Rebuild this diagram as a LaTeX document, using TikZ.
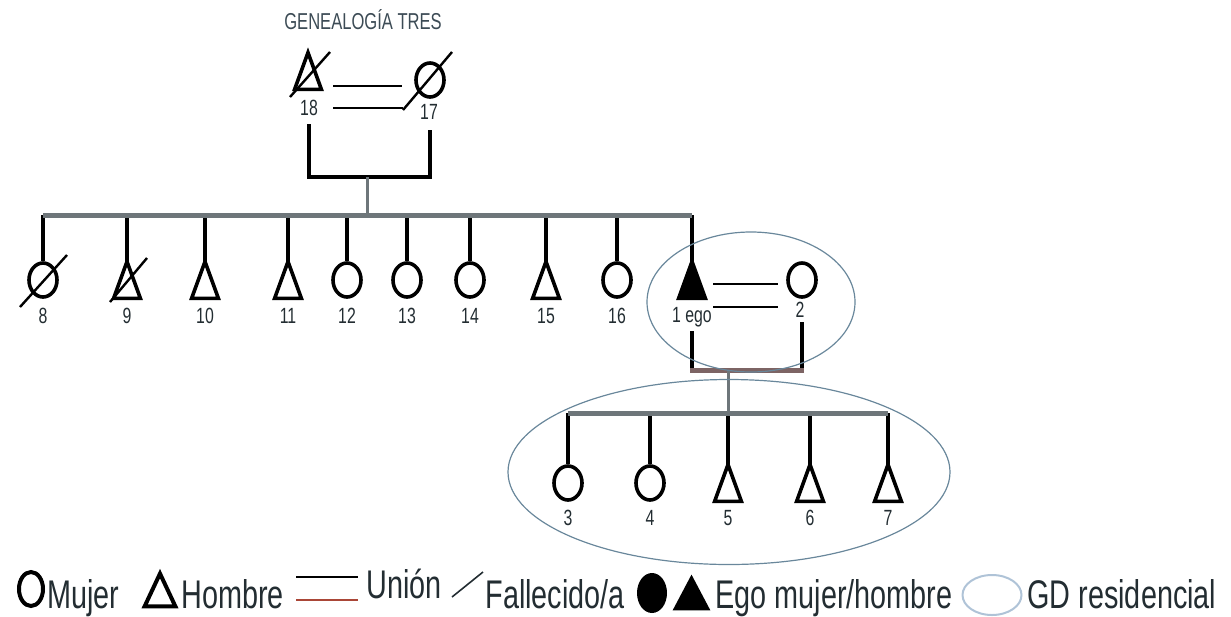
\documentclass[tikz,border=0pt]{standalone}
\usepackage{fontspec}
\usepackage{tikz}
\usetikzlibrary{shapes.geometric}
\newfontfamily\narrowsf{Liberation Sans}[FakeStretch=0.72]

\definecolor{ink}{RGB}{35,45,50}
\definecolor{titlegray}{RGB}{60,75,85}
\definecolor{bargray}{RGB}{110,118,122}
\definecolor{linkbrown}{RGB}{125,100,100}
\definecolor{gdline}{RGB}{105,135,155}
\definecolor{gdlight}{RGB}{175,195,215}
\definecolor{unionred}{RGB}{170,70,55}

\tikzset{
  woman/.style={ellipse,draw,line width=1.8pt,minimum width=14pt,minimum height=17pt,inner sep=0pt},
  man/.style={rectangle,minimum width=13pt,minimum height=18pt,inner sep=0pt},
  sym/.style={line width=1.8pt},
  num/.style={font=\narrowsf\fontsize{11}{13}\selectfont,text=ink,inner sep=0pt},
  key/.style={font=\narrowsf\fontsize{20}{23}\selectfont,text=ink,inner sep=0pt,anchor=base west},
  drop/.style={line width=2pt},
  bar/.style={line width=2.5pt,draw=bargray},
  stem/.style={line width=1.5pt,draw=bargray},
  union/.style={line width=1pt},
  dead/.style={line width=1.2pt},
  gd/.style={ellipse,draw=gdline,line width=0.6pt,inner sep=0pt},
}

\begin{document}
\begin{tikzpicture}[x=0.5pt,y=-0.5pt]
        \useasboundingbox (0,0) rectangle (1231,616);
        \node[font=\narrowsf\fontsize{11.5}{13}\selectfont,text=titlegray] (title) at (363,20) {GENEALOGÍA TRES};

        % abuelos
        \node[man] (p18) at (308,71) {};
        \node[woman] (p17) at (430,80) {};
        \node[num] (n18) at (309,108) {18};
        \node[num] (n17) at (429,112) {17};
        \draw[union] ([shift={(12,15)}]p18.east) -- ++(69,0);
        \draw[union] ([shift={(12,37)}]p18.east) -- ++(70,0);
        \coordinate (top) at (367,177);
        \coordinate (sib) at (367,215);
        \draw[drop] ([yshift=-4pt]n18.south) |- (top) -| ([yshift=-5pt]p17 |- n17.south);
        \draw[stem] (top) -- (sib);

        % hermanos, ego y pareja
        \foreach \p/\x in {9/127,10/205,11/288,15/546,1/692}
            \node[man] (p\p) at (\x,280) {};
        \foreach \p/\x in {8/43,12/347,13/407,14/470,16/617,2/802}
            \node[woman] (p\p) at (\x,280) {};
        \foreach \p/\x in {8/43,9/127,10/205,11/288,12/347,13/407,14/470,15/546,16/617}
            \node[num] (n\p) at (\x,316) {\p};
        \node[num] (n1) at (692,317) {1 ego};
        \node[num] (n2) at (800,310) {2};
        \foreach \p in {8,9,10,11,12,13,14,15,16,1}
            \draw[drop] (p\p |- sib) -- (p\p.north);
        \draw[bar] (p8 |- sib) -- (p1 |- sib);

        \draw[union] ([shift={(8,4)}]p1.east) -- ([shift={(-8,4)}]p2.west);
        \draw[union] ([shift={(8,27)}]p1.east) -- ([shift={(-8,27)}]p2.west);
        \coordinate (home) at (728,370);
        \coordinate (kids) at (728,413);
        \draw[drop] ([yshift=-2pt]p1 |- n1.south) -- (p1 |- home);
        \draw[drop] ([yshift=-2pt]p2 |- n2.south) -- (p2 |- home);
        \draw[bar,draw=linkbrown] ([xshift=-1pt]p1 |- home) -- ([xshift=1pt]p2 |- home);
        \draw[stem] (home) -- (kids);

        % hijos
        \foreach \p/\x in {3/568,4/650}
            \node[woman] (p\p) at (\x,483) {};
        \foreach \p/\x in {5/728,6/810,7/888}
            \node[man] (p\p) at (\x,483) {};
        \foreach \p/\x in {3/568,4/650,5/728,6/810,7/888}
            \node[num] (n\p) at (\x,518) {\p};
        \foreach \p in {3,4,5,6,7}
            \draw[drop] (p\p |- kids) -- (p\p.north);
        \draw[bar] (p3 |- kids) -- (p7 |- kids);

        % triangulos
        \foreach \p in {18,9,10,11,15,5,6,7}
            \draw[sym] (p\p.south west) -- (p\p.north) -- (p\p.south east) -- cycle;
        \filldraw[sym] (p1.south west) -- (p1.north) -- (p1.south east) -- cycle;

        % fallecidos
        \draw[dead] ([shift={(-23,27)}]p8.center) -- ([shift={(24,-25)}]p8.center);
        \draw[dead] ([shift={(-17,22)}]p9.center) -- ([shift={(20,-22)}]p9.center);
        \draw[dead] ([shift={(-18,26)}]p18.center) -- ([shift={(22,-19)}]p18.center);
        \draw[dead] ([shift={(-27,30)}]p17.center) -- ([shift={(22,-28)}]p17.center);

        % grupos domesticos
        \node[gd,minimum width=104pt,minimum height=70pt] (gd1) at (751,302) {};
        \node[gd,minimum width=221pt,minimum height=92.5pt] (gd2) at (729,472) {};

        % leyenda
        \node[ellipse,draw,line width=2pt,minimum width=12pt,minimum height=17pt,inner sep=0pt] (kw) at (31,589) {};
        \node[key] (kwt) at (47,608) {Mujer};
        \node[minimum width=15pt,minimum height=16pt,inner sep=0pt] (km) at (160,590) {};
        \draw[line width=2pt] (km.south west) -- (km.north) -- (km.south east) -- cycle;
        \node[key] (kmt) at (181,608) {Hombre};
        \coordinate (ku) at (296,577);
        \draw[union] (ku) -- ++(62,0);
        \draw[union,draw=unionred] (ku) ++(0,23) -- ++(62,0);
        \node[key] (kut) at (366,598) {Unión};
        \coordinate (kd) at (452,597);
        \draw[line width=0.8pt,draw=ink] (kd) -- ++(31,-25);
        \node[key] (kdt) at (485,608) {Fallecido/a};
        \node[ellipse,fill,minimum width=15pt,minimum height=20pt,inner sep=0pt] (kew) at (652,593) {};
        \node[minimum width=18.5pt,minimum height=17.5pt,inner sep=0pt] (kem) at (691.5,592.5) {};
        \fill (kem.south west) -- (kem.north) -- (kem.south east) -- cycle;
        \node[key] (ket) at (715,608) {Ego mujer/hombre};
        \node[ellipse,draw=gdlight,line width=1pt,minimum width=29.5pt,minimum height=20pt,inner sep=0pt] (kgd) at (992,595) {};
        \node[key] (kgdt) at (1027,608) {GD residencial};
    \end{tikzpicture}
\end{document}
